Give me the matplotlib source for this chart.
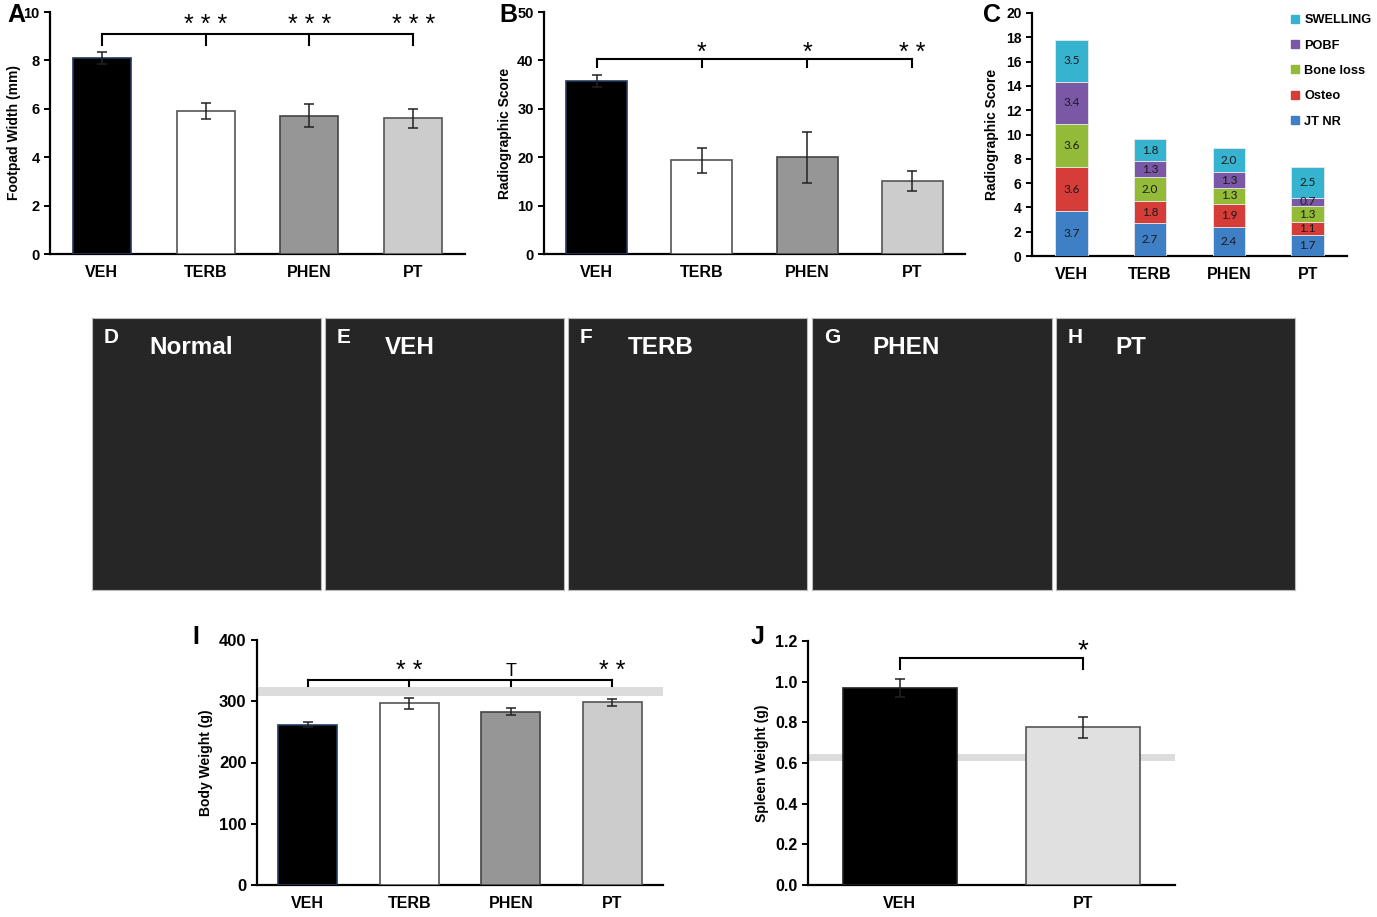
import matplotlib
matplotlib.use("Agg")
import matplotlib.pyplot as plt
import numpy as np
from matplotlib.lines import Line2D

plt.rcParams['font.family'] = ['Liberation Sans', 'DejaVu Sans']
plt.rcParams['font.weight'] = 'bold'

W, H = 1377, 917

# ---- data ----
groups = ['VEH', 'TERB', 'PHEN', 'PT']

footpad = [8.1, 5.9, 5.72, 5.6]
footpad_err = [0.25, 0.32, 0.48, 0.4]

radio = [35.7, 19.4, 20.0, 15.1]
radio_err = [1.2, 2.6, 5.3, 2.0]

score_parts = ['JT NR', 'Osteo', 'Bone loss', 'POBF', 'SWELLING']
jt_nr = [3.7, 2.7, 2.4, 1.7]
osteo = [3.6, 1.8, 1.9, 1.1]
bone_loss = [3.6, 2.0, 1.3, 1.3]
pobf = [3.4, 1.3, 1.3, 0.7]
swelling = [3.5, 1.8, 2.0, 2.5]

body = [262, 297, 283, 298]
body_err = [4, 9, 6, 5]
body_normal = 317

spleen_groups = ['VEH', 'PT']
spleen = [0.97, 0.775]
spleen_err = [0.045, 0.05]
spleen_normal = 0.63

xray_panels = [('D', 'Normal'), ('E', 'VEH'), ('F', 'TERB'), ('G', 'PHEN'), ('H', 'PT')]

bar_colors = ['#000000', '#ffffff', '#969696', '#cccccc']
bar_edges = ['#23395d', '#555555', '#444444', '#555555']
part_colors = ['#3f7fc6', '#d63c38', '#93bb37', '#7b58a6', '#35b3cf']

fig = plt.figure(figsize=(W / 100, H / 100), dpi=100)


def px_axes(left, top, right, bottom):
    return fig.add_axes([left / W, 1 - bottom / H, (right - left) / W, (bottom - top) / H])


def style(ax, ylabel, label_x_px, left_px, width_px):
    for s in ['top', 'right']:
        ax.spines[s].set_visible(False)
    for s in ['left', 'bottom']:
        ax.spines[s].set_linewidth(1.6)
    ax.tick_params(axis='x', length=0, labelsize=11.5, pad=8)
    ax.tick_params(axis='y', length=4, width=1.4, labelsize=10.5, direction='out')
    ax.set_ylabel(ylabel, fontsize=10, fontweight='bold')
    # label anchor is the right edge of the rotated text
    ax.yaxis.set_label_coords((label_x_px + 6 - left_px) / width_px, 0.5)


def bracket(ax, x_left, xs, y, y_low, labels, label_y, sizes):
    ax.plot([x_left, xs[-1]], [y, y], color='black', lw=1.5, clip_on=False)
    ax.plot([x_left, x_left], [y, y_low], color='black', lw=1.5, clip_on=False)
    for x, lab, fs in zip(xs, labels, sizes):
        ax.plot([x, x], [y, y_low], color='black', lw=1.5, clip_on=False)
        ax.text(x, label_y, lab, ha='center', va='center', fontsize=fs,
                fontweight='normal', clip_on=False)


def simple_bars(ax, cats, vals, errs, width, colors, edges):
    x = np.arange(len(cats))
    ax.bar(x, vals, width, color=colors, edgecolor=edges, linewidth=1.2, zorder=3)
    ax.errorbar(x, vals, yerr=errs, fmt='none', ecolor='#222222', elinewidth=1.1,
                capsize=3.5, capthick=1.1, zorder=4)
    ax.set_xticks(x)
    ax.set_xticklabels(cats)
    ax.set_xlim(-0.5, len(cats) - 0.5)
    return x


# ---- A ----
axA = px_axes(50, 12, 465, 254)
x = simple_bars(axA, groups, footpad, footpad_err, 0.56, bar_colors, bar_edges)
axA.set_ylim(0, 10)
axA.set_yticks(range(0, 11, 2))
style(axA, 'Footpad Width (mm)', 15, 50, 415)
bracket(axA, x[0], x[1:], 9.1, 8.65, ['* * *'] * 3, 9.45, [18] * 3)
fig.text(16 / W, 1 - 15 / H, 'A', fontsize=18, ha='center', va='center')

# ---- B ----
axB = px_axes(544, 12, 965, 254)
x = simple_bars(axB, groups, radio, radio_err, 0.58, bar_colors, bar_edges)
axB.set_ylim(0, 50)
axB.set_yticks(range(0, 51, 10))
style(axB, 'Radiographic Score', 506, 544, 421)
bracket(axB, x[0], x[1:], 40.3, 38.6, ['*', '*', '* *'], 41.6, [18] * 3)
fig.text(508 / W, 1 - 15 / H, 'B', fontsize=18, ha='center', va='center')

# ---- C ----
axC = px_axes(1032, 13, 1347, 256)
xc = np.arange(len(groups))
bottom = np.zeros(len(groups))
parts = [jt_nr, osteo, bone_loss, pobf, swelling]
for name, vals, col in zip(score_parts, parts, part_colors):
    vals = np.array(vals)
    axC.bar(xc, vals, 0.41, bottom=bottom, color=col, edgecolor='#e8e8e8',
            linewidth=0.6, zorder=3, label=name)
    for xi, b, v in zip(xc, bottom, vals):
        axC.text(xi, b + v / 2, f'{v:.1f}', ha='center', va='center',
                 fontsize=8.5, fontweight='normal', color='#1a1a1a',
                 family=['Lato', 'DejaVu Sans'], zorder=5)
    bottom = bottom + vals
axC.set_xticks(xc)
axC.set_xticklabels(groups)
axC.set_xlim(-0.5, 3.5)
axC.set_ylim(0, 20)
axC.set_yticks(range(0, 21, 2))
style(axC, 'Radiographic Score', 993, 1032, 315)
axC.tick_params(axis='y', labelsize=10)
handles = [Line2D([], [], marker='s', ls='none', color=c, markersize=6)
           for c in part_colors][::-1]
axC.legend(handles, score_parts[::-1], loc='upper left',
           bbox_to_anchor=(1285 / W, 1 - 9 / H), bbox_transform=fig.transFigure,
           frameon=False, prop={'size': 9.2, 'weight': 'bold'},
           handlelength=0.8, handletextpad=0.3,
           labelspacing=1.05, borderaxespad=0)
fig.text(992 / W, 1 - 15 / H, 'C', fontsize=18, ha='center', va='center')

# ---- D-H x-ray panels ----
xray_boxes = [(92, 321), (325, 564), (568, 807), (812, 1052), (1056, 1295)]
for (l, r), (letter, name) in zip(xray_boxes, xray_panels):
    ax = px_axes(l, 318, r, 590)
    ax.set_facecolor('#262626')
    ax.set_xticks([])
    ax.set_yticks([])
    for s in ax.spines.values():
        s.set_color('#bbbbbb')
        s.set_linewidth(0.8)
    ax.text(0.05, 0.93, letter, transform=ax.transAxes, color='white',
            fontsize=15, ha='left', va='center')
    ax.text(0.25, 0.89, name, transform=ax.transAxes, color='white',
            fontsize=17.5, ha='left', va='center')

# ---- I ----
axI = px_axes(257, 640, 663, 885)
axI.axhline(body_normal, color='#dcdcdc', lw=6.5, zorder=1, xmin=0.01, xmax=1.0)
x = simple_bars(axI, groups, body, body_err, 0.58, bar_colors, bar_edges)
axI.set_ylim(0, 400)
axI.set_yticks(range(0, 401, 100))
style(axI, 'Body Weight (g)', 207, 257, 406)
axI.tick_params(axis='y', labelsize=12)
bracket(axI, x[0], x[1:], 335, 325, ['* *', 'T', '* *'], 349, [18, 13, 18])
fig.text(196 / W, 1 - 637 / H, 'I', fontsize=18, ha='center', va='center')

# ---- J ----
axJ = px_axes(808, 641, 1175, 885)
axJ.axhline(spleen_normal, color='#dcdcdc', lw=5, zorder=1)
x = simple_bars(axJ, spleen_groups, spleen, spleen_err, 0.62,
                ['#000000', '#e0e0e0'], ['#222222', '#555555'])
axJ.set_ylim(0, 1.2)
axJ.set_yticks(np.arange(0, 1.21, 0.2))
axJ.set_yticklabels([f'{v:.1f}' for v in np.arange(0, 1.21, 0.2)])
style(axJ, 'Spleen Weight (g)', 763, 808, 367)
axJ.tick_params(axis='y', labelsize=11.5)
bracket(axJ, x[0], x[1:], 1.115, 1.062, ['*'], 1.15, [20])
fig.text(758 / W, 1 - 637 / H, 'J', fontsize=18, ha='center', va='center')

fig.savefig('out.png', dpi=100, facecolor='white')
